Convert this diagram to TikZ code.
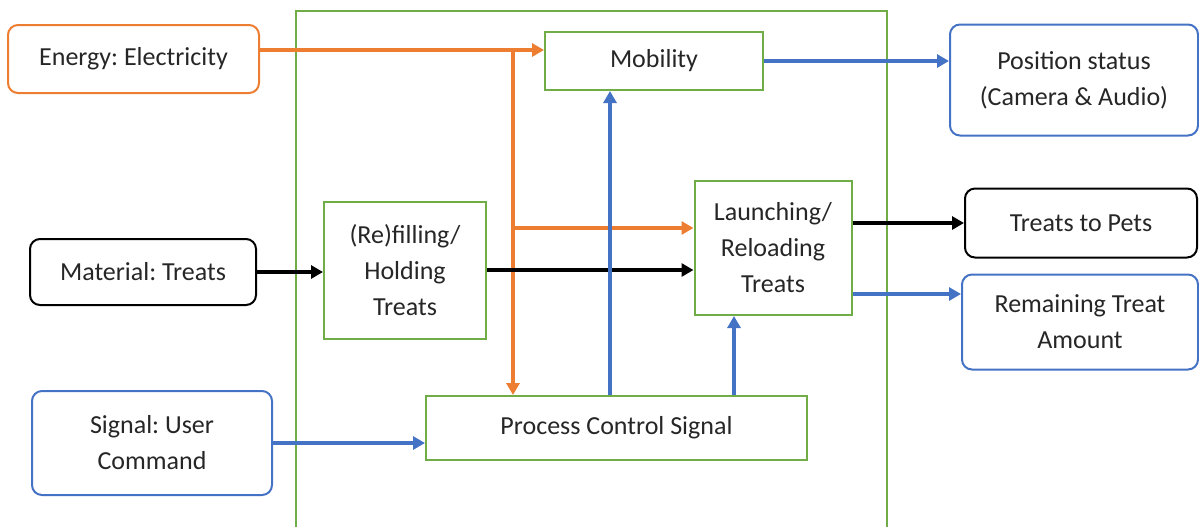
\documentclass[tikz,border=0pt]{standalone}
\usepackage{fontspec}
\setmainfont{Carlito}
\usepackage{tikz}
\usepackage{xcolor}
\usetikzlibrary{arrows.meta, positioning, calc}

\definecolor{energyorange}{HTML}{ED7D31}
\definecolor{signalblue}{HTML}{4472C4}
\definecolor{funcgreen}{HTML}{70AD47}
\definecolor{txtgray}{HTML}{262626}

\begin{document}
\frenchspacing
\begin{tikzpicture}[x=0.5pt, y=-0.5pt,
  font=\fontsize{13}{18}\selectfont, text=txtgray,
  func/.style={draw=funcgreen, line width=1pt, align=center, inner sep=0pt},
  ext/.style={draw=#1, line width=1pt, rounded corners=5pt, align=center, inner sep=0pt},
  flow/.style={line width=1.7pt, -{Triangle[length=6pt,width=6.5pt]}}]
\useasboundingbox (0,0) rectangle (1199,527);

% System boundary, open at the bottom
\draw[funcgreen, line width=1pt] (296,527) -- (296,11) -- (887,11) -- (887,527);

% Inputs
\node[ext=energyorange, minimum width=125.5pt, minimum height=34pt] (energy) at (133.5,59) {Energy: Electricity};
\node[ext=black, minimum width=113pt, minimum height=33pt] (material) at (143,272) {Material: Treats};
\node[ext=signalblue, minimum width=120pt, minimum height=52pt] (signal) at (152,443) {Signal: User\\Command};

% Functions
\node[func, minimum width=109pt, minimum height=29pt] (mobility) at (654,61) {Mobility};
\node[func, minimum width=81pt, minimum height=68.5pt] (refill) at (405,270) {(Re)filling/\\Holding\\Treats};
\node[func, minimum width=78.5pt, minimum height=67pt] (launch) at (773,248) {Launching/\\Reloading\\Treats};
\node[func, minimum width=190.5pt, minimum height=32pt] (process) at (616.5,428) {Process Control Signal};

% Outputs
\node[ext=signalblue, minimum width=124pt, minimum height=55.5pt] (position) at (1074,80) {Position status\\(Camera \& Audio)};
\node[ext=black, minimum width=116pt, minimum height=34.5pt] (pets) at (1081,223) {Treats to Pets};
\node[ext=signalblue, minimum width=118pt, minimum height=47.5pt] (remain) at (1080,322) {Remaining Treat\\Amount};

% Energy flow
\coordinate (ebus) at (513,50);
\coordinate (ebranch) at (513,228);
\draw[flow, energyorange] (energy.east |- ebus) -- (mobility.west |- ebus);
\draw[flow, energyorange] (ebus) -- (process.north -| ebus);
\draw[flow, energyorange] (ebranch) -- (launch.west |- ebranch);

% Material flow
\draw[flow] (material.east) -- (refill.west |- material.east);
\draw[flow] (refill.east) -- (launch.west |- refill.east);
\draw[flow] (launch.east |- pets.west) -- (pets.west);

% Signal flow
\coordinate (colA) at (610,0);
\coordinate (colB) at (734,0);
\coordinate (rowR) at (0,294);
\draw[flow, signalblue] (signal.east) -- (process.west |- signal.east);
\draw[flow, signalblue] (process.north -| colA) -- (mobility.south -| colA);
\draw[flow, signalblue] (process.north -| colB) -- (launch.south -| colB);
\draw[flow, signalblue] (mobility.east) -- (position.west |- mobility.east);
\draw[flow, signalblue] (launch.east |- rowR) -- (remain.west |- rowR);
\end{tikzpicture}
\end{document}
